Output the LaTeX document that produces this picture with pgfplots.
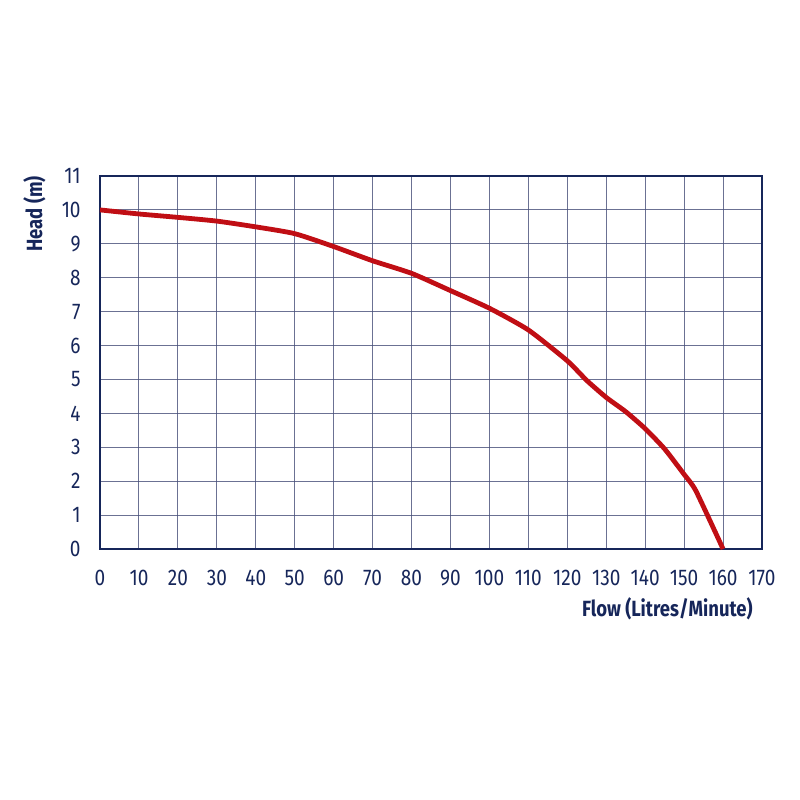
\documentclass[border=0pt]{standalone}
\usepackage{pgfplots}
\pgfplotsset{compat=1.18}
\usepackage{fontspec}
\setmainfont{Fira Sans}[FakeStretch=0.84]
\definecolor{navy}{RGB}{22,38,90}
\definecolor{gridc}{RGB}{70,78,120}
\definecolor{curve}{RGB}{192,14,20}
\begin{document}
\begin{tikzpicture}[x=0.75pt,y=0.75pt]
% page = 800 x 800 px, axis lower left at (100,549) px
\path (-100,-251) rectangle (700,549);
\begin{axis}[
  at={(0,0)}, anchor=south west,
  scale only axis,
  width=496.5pt, height=279.75pt,
  xmin=0, xmax=170, ymin=0, ymax=11,
  xtick={0,10,...,170}, ytick={0,1,...,11},
  grid=major,
  major grid style={gridc, line width=0.8pt, opacity=0.8},
  axis line style={navy, line width=1.6pt},
  major tick length=0pt,
  tick label style={font=\fontsize{17}{18}\selectfont, text=navy},
  xticklabel style={yshift=-12pt},
  yticklabel style={xshift=-11pt},
  /pgf/number format/assume math mode=true,
  xlabel={Flow (Litres/Minute)},
  ylabel={Head (m)},
  label style={font=\fontsize{16.5}{18}\selectfont\bfseries, text=navy},
  xlabel style={at={(axis description cs:0.993,-0.118)}, anchor=north east},
  ylabel style={at={(axis description cs:-0.075,1.012)}, anchor=south east},
  clip=false,
]
\addplot[curve, line width=3.6pt, smooth, tension=0.35] coordinates {
  (0,10) (10,9.88) (20,9.78) (30,9.67) (40,9.5) (50,9.3) (60,8.92)
  (70,8.5) (80,8.13) (90,7.62) (100,7.1) (110,6.46) (120,5.55)
  (125,4.97) (130,4.47) (135,4.05) (140,3.55) (145,2.95) (150,2.2)
  (153,1.72) (160,0)
};
\end{axis}
\end{tikzpicture}
\end{document}
